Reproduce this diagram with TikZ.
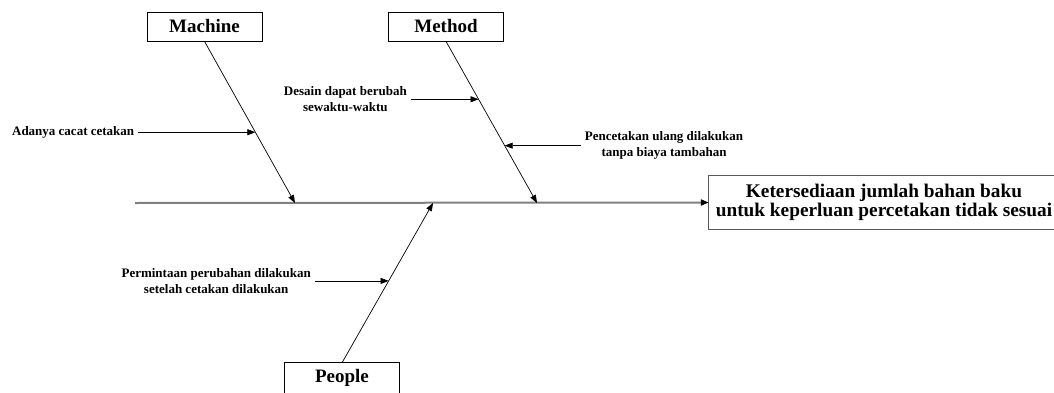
\documentclass[tikz,border=0pt]{standalone}
\usepackage{fontspec}
\setmainfont{Liberation Serif}
\usetikzlibrary{arrows.meta,calc}

\begin{document}
\begin{tikzpicture}[x=1pt,y=1pt,
  boxline/.style={draw=black,line width=0.8pt},
  catbox/.style={boxline,fill=white,minimum width=115pt,minimum height=29pt,
                 inner sep=0pt,font=\fontsize{19}{22}\selectfont\bfseries},
  cattext/.style={minimum width=115pt,minimum height=29pt,
                 inner sep=0pt,font=\fontsize{19}{22}\selectfont\bfseries},
  effecttext/.style={minimum width=350pt,minimum height=53pt,
                 inner sep=0pt,align=center,font=\fontsize{19.3}{19}\selectfont\bfseries},
  causelabel/.style={inner xsep=4pt,inner ysep=1pt,align=center,font=\fontsize{13}{16}\selectfont\bfseries},
  bone/.style={draw=black,line width=0.7pt,-{Triangle[length=8pt,width=6pt]}},
  twig/.style={draw=black,line width=0.7pt,-{Triangle[length=8pt,width=6pt]}},
  spine/.style={draw=black!50,line width=2pt,-{Triangle[length=8pt,width=6pt,color=black]}}]

\useasboundingbox (0,0) rectangle (1054,392);

% category boxes
\node[catbox] (machine) at (204.5,365.5) {Machine};
\node[catbox] (method)  at (446,365.5)   {Method};
\node[cattext] (people) at (342,14.5)    {People};
\draw[boxline] (people.north west) rectangle ([yshift=-20pt]people.south east);

% effect box, running on past the right margin
\node[effecttext] (effect) at (884,189.5)
  {Ketersediaan jumlah bahan baku\\untuk keperluan percetakan tidak sesuai};
\draw[draw=black!65,line width=1pt] (effect.north west) rectangle ([xshift=30pt]effect.south east);

% points where the bones meet the spine
\coordinate (tail) at (135,189);
\coordinate (mtip) at (295,189);
\coordinate (ttip) at (537,189);
\coordinate (ptip) at (433,189);

% spine
\draw[spine] (tail) -- (effect.west);

% bones
\draw[bone] (machine.south) -- (mtip);
\draw[bone] (method.south) -- (ttip);
\draw[bone] (people.north) -- (ptip);

% points on the bones hit by the causes
\coordinate (c1) at ($(machine.south)!0.562!(mtip)$);
\coordinate (c2) at ($(method.south)!0.358!(ttip)$);
\coordinate (c3) at ($(method.south)!0.645!(ttip)$);
\coordinate (c4) at ($(people.north)!0.5125!(ptip)$);

% causes
\node[causelabel,anchor=east] (l1) at ([xshift=-117pt]c1) {Adanya cacat cetakan};
\node[causelabel,anchor=east] (l2) at ([xshift=-67.6pt]c2) {Desain dapat berubah\\sewaktu-waktu};
\node[causelabel,anchor=west] (l3) at ([xshift=76pt]c3) {Pencetakan ulang dilakukan\\tanpa biaya tambahan};
\node[causelabel,anchor=east] (l4) at ([xshift=-73.6pt]c4) {Permintaan perubahan dilakukan\\setelah cetakan dilakukan};

\draw[twig] (l1.east) -- (c1);
\draw[twig] (l2.east) -- (c2);
\draw[twig] (l3.west) -- (c3);
\draw[twig] (l4.east) -- (c4);

\end{tikzpicture}
\end{document}
